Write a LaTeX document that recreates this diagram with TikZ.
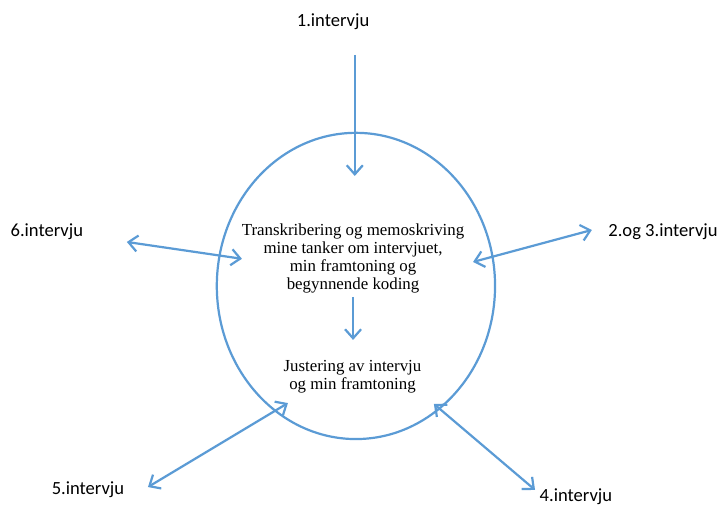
\documentclass[tikz,border=0pt]{standalone}
\usepackage{fontspec}
\setmainfont{Liberation Serif}
\newfontfamily\labelfont{Carlito}
\usetikzlibrary{arrows.meta,positioning}
\definecolor{cycleblue}{HTML}{5B9BD5}

\begin{document}
\begin{tikzpicture}[
  ring/.style={draw=cycleblue, line width=2.2pt},
  interview/.style={font=\labelfont\fontsize{18.5}{22}\selectfont, inner sep=0pt},
  work/.style={align=center, font=\fontsize{16.8}{18}\selectfont, inner sep=0pt},
  arr/.style={-{Straight Barb[length=9pt,width=16pt]}, line width=2.2pt, cycleblue},
  both/.style={{Straight Barb[length=9pt,width=16pt]}-{Straight Barb[length=9pt,width=16pt]}, line width=2.2pt, cycleblue}
]
  \useasboundingbox (-12.46,-7.74) rectangle (12.71,10.01);

  % the cycle
  \draw[ring] (0,0) ellipse (4.87cm and 5.36cm);
  \node[work] (transcribe) at (-0.1,0.95) {Transkribering og memoskriving\\mine tanker om intervjuet,\\min framtoning og\\begynnende koding};
  \node[work] (adjust) at (-0.12,-3.17) {Justering av intervju\\og min framtoning};

  % interviews
  \node[interview] (first) at (-0.8,9.24) {1.intervju};
  \node[interview] (second) at (10.75,1.89) {2.og 3.intervju};
  \node[interview] (fourth) at (7.7,-7.38) {4.intervju};
  \node[interview] (fifth) at (-9.38,-7.14) {5.intervju};
  \node[interview] (sixth) at (-10.82,1.89) {6.intervju};

  % arrow ends
  \coordinate (in1a) at (-0.04,8.09);
  \coordinate (in1b) at (-0.04,3.85);
  \coordinate (in2a) at (8.26,1.96);
  \coordinate (in2b) at (4.10,0.84);
  \coordinate (in4a) at (6.27,-7.14);
  \coordinate (in4b) at (2.73,-4.13);
  \coordinate (in5a) at (-7.28,-7.04);
  \coordinate (in5b) at (-2.38,-4.10);
  \coordinate (in6a) at (-8.02,1.54);
  \coordinate (in6b) at (-3.99,0.95);
  \coordinate (midA) at (-0.1,-0.38);
  \coordinate (midB) at (-0.1,-1.89);

  \draw[arr] (in1a) -- (in1b);
  \draw[both] (in2a) -- (in2b);
  \draw[both] (in4a) -- (in4b);
  \draw[both] (in5a) -- (in5b);
  \draw[both] (in6a) -- (in6b);
  \draw[arr] (midA) -- (midB);
\end{tikzpicture}
\end{document}
